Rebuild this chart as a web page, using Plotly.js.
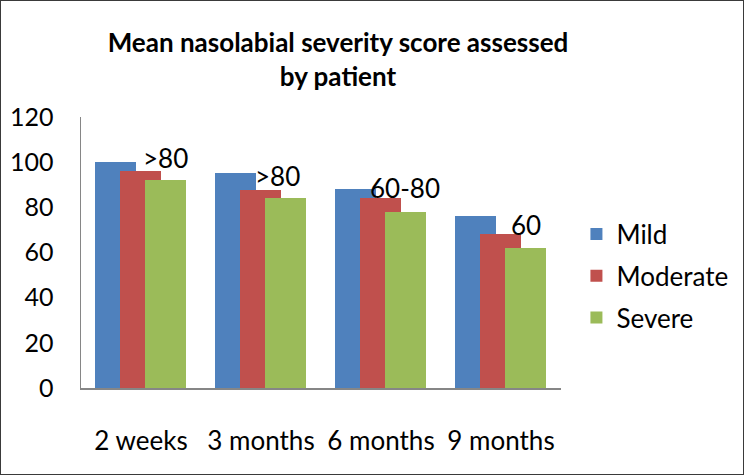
<!DOCTYPE html>
<html>
<head>
<meta charset="utf-8">
<script src="https://cdn.plot.ly/plotly-3.0.1.min.js"></script>
<style>
  html, body { margin: 0; padding: 0; background: #fff; }
  #wrap { position: relative; width: 744px; height: 475px; }
  #chart { width: 744px; height: 475px; }
  #frame { position: absolute; left: 0; top: 0; width: 744px; height: 475px; box-sizing: border-box; border: 1.5px solid #3a3a3a; pointer-events: none; }
</style>
</head>
<body>
<div id="wrap"><div id="chart"></div><div id="frame"></div></div>
<script>
const categories = ["2 weeks", "3 months", "6 months", "9 months"];
const mild = [100, 95, 88, 76];
const moderate = [96, 87.5, 84, 68];
const severe = [92, 84, 78, 62];
const groupLabels = [">80", ">80", "60-80", "60"];
const labelY = [102, 94, 88.5, 72];
const yTicks = [0, 20, 40, 60, 80, 100, 120];

const FONT = "Lato, 'Open Sans', sans-serif";
const xIdx = categories.map((c, i) => i);

function barTrace(name, vals, color, offset) {
  return {
    type: "bar", name: name, x: xIdx, y: vals,
    width: 0.341, offset: offset,
    marker: { color: color, line: { width: 0 } },
    hoverinfo: "name+y",
    legendgroup: name
  };
}

const data = [
  barTrace("Mild", mild, "#4F81BD", -0.383),
  barTrace("Moderate", moderate, "#C0504D", -0.175),
  barTrace("Severe", severe, "#9BBB59", 0.033)
];

const annotations = groupLabels.map((t, i) => ({
  x: i + [0.2, 0.14, 0.2, 0.21][i], y: labelY[i], xref: "x", yref: "y",
  text: t, showarrow: false, xanchor: "center", yanchor: "middle",
  font: { family: FONT, size: 26, color: "#000" }
}));

const layout = {
  width: 744, height: 475,
  margin: { l: 81, r: 182, t: 117, b: 87 },
  paper_bgcolor: "#fff", plot_bgcolor: "#fff",
  barmode: "overlay",
  bargap: 0,
  title: {
    text: "Mean nasolabial severity score assessed<br>by patient",
    font: { family: FONT, size: 26, color: "#000", weight: "bold" },
    x: 338 / 744, xanchor: "center", xref: "container",
    y: 1 - 52 / 475, yanchor: "top", yref: "container"
  },
  xaxis: {
    range: [-0.5, 3.5],
    tickmode: "array", tickvals: xIdx, ticktext: categories,
    showgrid: false, zeroline: false,
    showline: true, linecolor: "#868686", linewidth: 1.5,
    ticks: "", ticklabelstandoff: 29,
    tickfont: { family: FONT, size: 26, color: "#000" },
    fixedrange: true
  },
  yaxis: {
    range: [0, 120],
    tickmode: "array", tickvals: yTicks,
    showgrid: false, zeroline: false,
    showline: true, linecolor: "#868686", linewidth: 1.5,
    ticks: "", ticklabelstandoff: 21,
    tickfont: { family: FONT, size: 25, color: "#000" },
    fixedrange: true
  },
  legend: {
    x: 1.03, xanchor: "left", y: 0.413, yanchor: "middle",
    font: { family: FONT, size: 26, color: "#000" },
    traceorder: "grouped", tracegroupgap: 5,
    bgcolor: "rgba(0,0,0,0)"
  },
  annotations: annotations,
  showlegend: true
};

Plotly.newPlot("chart", data, layout, { displayModeBar: false, staticPlot: true });
</script>
</body>
</html>
